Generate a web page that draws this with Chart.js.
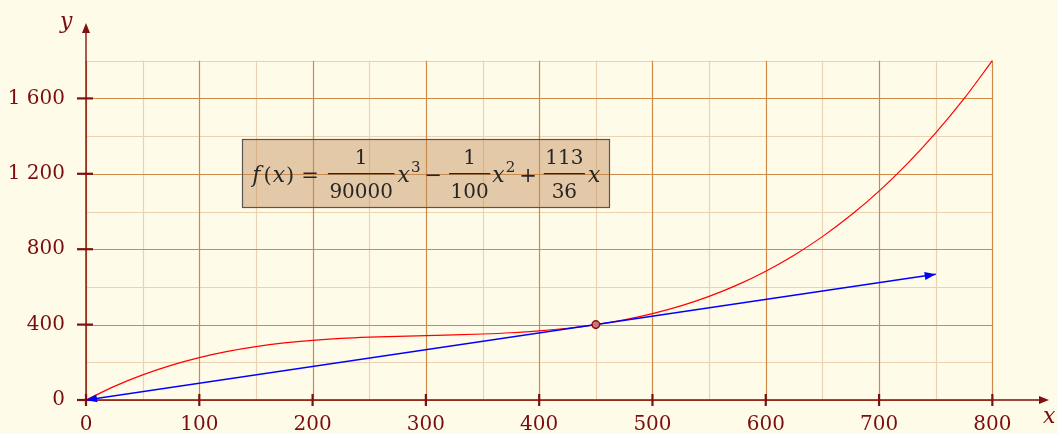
<!DOCTYPE html>
<html>
<head>
<meta charset="utf-8">
<script src="https://cdn.jsdelivr.net/npm/chart.js@4/dist/chart.umd.min.js"></script>
<style>
  html, body { margin: 0; padding: 0; background: #fffbe9; }
  canvas { display: block; }
</style>
</head>
<body>
<canvas id="c" width="1058" height="434"></canvas>
<script>
// ---- data ----
const X_CURVE = [0, 25, 50, 75, 100, 125, 150, 175, 200, 225, 250, 275, 300, 325, 350, 375, 400,
                 425, 450, 475, 500, 525, 550, 575, 600, 625, 650, 675, 700, 725, 750, 775, 800];
const Y_CURVE = [0, 72.4, 133.3, 183.9, 225.0, 257.8, 283.3, 302.6, 316.7, 326.6, 333.3, 338.0, 341.7, 345.3, 350.0, 356.8, 366.7,
                 380.7, 400.0, 425.5, 458.3, 499.5, 550.0, 610.9, 683.3, 768.2, 866.7, 979.7, 1108.3, 1253.7, 1416.7, 1598.4, 1800];
const TANGENT_X = [0, 750];
const TANGENT_Y = [0, 666.7];
const POINT_X = [450];
const POINT_Y = [400];

const X_TICKS = [0, 100, 200, 300, 400, 500, 600, 700, 800];
const Y_TICKS = [0, 400, 800, 1200, 1600];
const Y_TICK_LABELS = ['0', '400', '800', '1 200', '1 600'];
const X_MINOR = [50, 150, 250, 350, 450, 550, 650, 750];
const Y_MINOR = [200, 600, 1000, 1400, 1800];
const GRID_X_MAX = 800, GRID_Y_MAX = 1800;
const AXIS_X_MAX = 850, AXIS_Y_MAX = 2000;
const BOX = { x0: 138, x1: 462, y0: 1020, y1: 1382 };

// ---- styles ----
const BG = '#fffbe9';
const MAJOR = 'rgb(205,138,72)';
const MINOR = 'rgb(234,210,178)';
const AXIS = 'rgba(128,10,10,0.75)';
const TICK = '#7d1010';
const LABEL = '#7a0e0e';
const SERIF = '"DejaVu Serif", serif';

const decor = {
  id: 'decor',
  beforeDraw(chart) {
    const c = chart.ctx;
    c.save();
    c.fillStyle = BG;
    c.fillRect(0, 0, chart.width, chart.height);
    c.restore();
  },
  beforeDatasetsDraw(chart) {
    const c = chart.ctx, xs = chart.scales.x, ys = chart.scales.y;
    const X = v => xs.getPixelForValue(v), Y = v => ys.getPixelForValue(v);
    c.save();
    c.lineWidth = 1.2;
    // minor grid
    c.strokeStyle = MINOR;
    X_MINOR.forEach(v => { c.beginPath(); c.moveTo(Math.round(X(v)) + 0.5, Y(0)); c.lineTo(Math.round(X(v)) + 0.5, Y(GRID_Y_MAX)); c.stroke(); });
    Y_MINOR.forEach(v => { c.beginPath(); c.moveTo(X(0), Math.round(Y(v)) + 0.5); c.lineTo(X(GRID_X_MAX), Math.round(Y(v)) + 0.5); c.stroke(); });
    // major grid
    c.strokeStyle = MAJOR;
    X_TICKS.forEach(v => { c.beginPath(); c.moveTo(Math.round(X(v)) + 0.5, Y(0)); c.lineTo(Math.round(X(v)) + 0.5, Y(GRID_Y_MAX)); c.stroke(); });
    Y_TICKS.forEach(v => { c.beginPath(); c.moveTo(X(0), Math.round(Y(v)) + 0.5); c.lineTo(X(GRID_X_MAX), Math.round(Y(v)) + 0.5); c.stroke(); });

    // formula box
    const bl = X(BOX.x0), br = X(BOX.x1), bt = Y(BOX.y1), bb = Y(BOX.y0);
    c.fillStyle = 'rgba(196,140,88,0.45)';
    c.fillRect(bl, bt, br - bl, bb - bt);
    c.strokeStyle = '#5a5550';
    c.lineWidth = 1.2;
    c.strokeRect(Math.round(bl) + 0.5, Math.round(bt) + 0.5, Math.round(br - bl), Math.round(bb - bt));
    drawFormula(c, bl, bt, br, bb);

    // axes
    const ox = X(0), oy = Y(0);
    c.strokeStyle = AXIS; c.fillStyle = TICK; c.lineWidth = 1.8;
    const xr = chart.chartArea.right, yt = chart.chartArea.top;
    c.beginPath(); c.moveTo(ox, oy); c.lineTo(xr - 8, oy); c.stroke();
    c.beginPath(); c.moveTo(ox, oy); c.lineTo(ox, yt + 8); c.stroke();
    // arrowheads
    c.beginPath(); c.moveTo(xr, oy); c.lineTo(xr - 10, oy - 4); c.lineTo(xr - 10, oy + 4); c.closePath(); c.fill();
    c.beginPath(); c.moveTo(ox, yt); c.lineTo(ox - 4, yt + 10); c.lineTo(ox + 4, yt + 10); c.closePath(); c.fill();
    // tick marks
    c.strokeStyle = TICK; c.lineWidth = 2.2;
    X_TICKS.forEach(v => { c.beginPath(); c.moveTo(X(v), oy - 6); c.lineTo(X(v), oy + 6); c.stroke(); });
    Y_TICKS.forEach(v => { c.beginPath(); c.moveTo(ox - 9, Y(v)); c.lineTo(ox + 7, Y(v)); c.stroke(); });

    // axis names
    c.fillStyle = LABEL;
    c.font = 'italic 22px ' + SERIF;
    c.textAlign = 'left'; c.textBaseline = 'alphabetic';
    c.fillText('y', ox - 26, yt + 5);
    c.fillText('x', xr - 6, oy + 23);
    c.restore();
  },
  afterDatasetsDraw(chart) {
    const c = chart.ctx;
    const meta = chart.getDatasetMeta(1);
    const pts = meta.data;
    const a = pts[0], b = pts[pts.length - 1];
    const ang = Math.atan2(b.y - a.y, b.x - a.x);
    c.save();
    c.fillStyle = '#0000ff';
    const head = (p, th) => {
      c.beginPath();
      c.moveTo(p.x, p.y);
      c.lineTo(p.x - 11 * Math.cos(th) + 4 * Math.sin(th), p.y - 11 * Math.sin(th) - 4 * Math.cos(th));
      c.lineTo(p.x - 11 * Math.cos(th) - 4 * Math.sin(th), p.y - 11 * Math.sin(th) + 4 * Math.cos(th));
      c.closePath(); c.fill();
    };
    head(b, ang);
    head(a, ang + Math.PI);
    c.restore();
  }
};

function drawFormula(c, left, top, right, bottom) {
  const cy = (top + bottom) / 2;
  const base = cy + 8;
  const R = '21px ' + SERIF, I = 'italic 22px ' + SERIF, S = '15px ' + SERIF, RN = '20px ' + SERIF;
  let x = left + 10;
  c.fillStyle = '#262626';
  c.textAlign = 'left'; c.textBaseline = 'alphabetic';
  const t = (s, font, pre = 0, y = base) => { x += pre; c.font = font; c.fillText(s, x, y); x += c.measureText(s).width; };
  const frac = (n, d, pre) => {
    x += pre;
    c.font = RN;
    const wn = c.measureText(n).width, wd = c.measureText(d).width;
    const w = Math.max(wn, wd) + 3;
    c.fillText(n, x + (w - wn) / 2, cy - 10);
    c.fillText(d, x + (w - wd) / 2, cy + 24);
    c.fillRect(x, cy - 0.6, w, 1.3);
    x += w;
  };
  t('f', I); t('(', R, 3); t('x', I, 1); t(')', R, 1);
  t('=', R, 7);
  frac('1', '90000', 9);
  t('x', I, 3); t('3', S, 1, base - 10);
  t('\u2212', R, 4);
  frac('1', '100', 7);
  t('x', I, 2); t('2', S, 1, base - 10);
  t('+', R, 4);
  frac('113', '36', 7);
  t('x', I, 3);
}

const chart = new Chart(document.getElementById('c'), {
  type: 'scatter',
  data: {
    datasets: [
      {
        label: 'point',
        data: POINT_X.map((x, i) => ({ x, y: POINT_Y[i] })),
        pointRadius: 3.8, pointBackgroundColor: '#c27a7a', pointBorderColor: '#8e1010', pointBorderWidth: 1.5,
        showLine: false
      },
      {
        label: 'tangent',
        data: TANGENT_X.map((x, i) => ({ x, y: TANGENT_Y[i] })),
        showLine: true, borderColor: '#0000ff', borderWidth: 1.5, pointRadius: 0
      },
      {
        label: 'f',
        data: X_CURVE.map((x, i) => ({ x, y: Y_CURVE[i] })),
        showLine: true, borderColor: '#ff0000', borderWidth: 1.2, pointRadius: 0,
        cubicInterpolationMode: 'monotone'
      }
    ]
  },
  options: {
    responsive: false,
    animation: false,
    events: [],
    layout: { padding: { left: 0, right: 9, top: 23, bottom: 0 } },
    plugins: { legend: { display: false }, tooltip: { enabled: false } },
    scales: {
      x: {
        type: 'linear', min: 0, max: AXIS_X_MAX,
        grid: { display: false, drawTicks: false }, border: { display: false },
        afterBuildTicks: s => { s.ticks = X_TICKS.map(v => ({ value: v })); },
        afterFit: s => { s.height = 34; s.paddingLeft = 0; s.paddingRight = 0; },
        ticks: { color: LABEL, font: { family: SERIF, size: 20 }, padding: 13, maxRotation: 0, autoSkip: false,
                 callback: v => String(v) }
      },
      y: {
        type: 'linear', min: 0, max: AXIS_Y_MAX,
        grid: { display: false, drawTicks: false }, border: { display: false },
        afterBuildTicks: s => { s.ticks = Y_TICKS.map(v => ({ value: v })); },
        afterFit: s => { s.width = 86; s.paddingTop = 0; s.paddingBottom = 0; },
        ticks: { color: LABEL, font: { family: SERIF, size: 20 }, padding: 21, autoSkip: false,
                 callback: v => Y_TICK_LABELS[Y_TICKS.indexOf(v)] }
      }
    }
  },
  plugins: [decor]
});
</script>
</body>
</html>
